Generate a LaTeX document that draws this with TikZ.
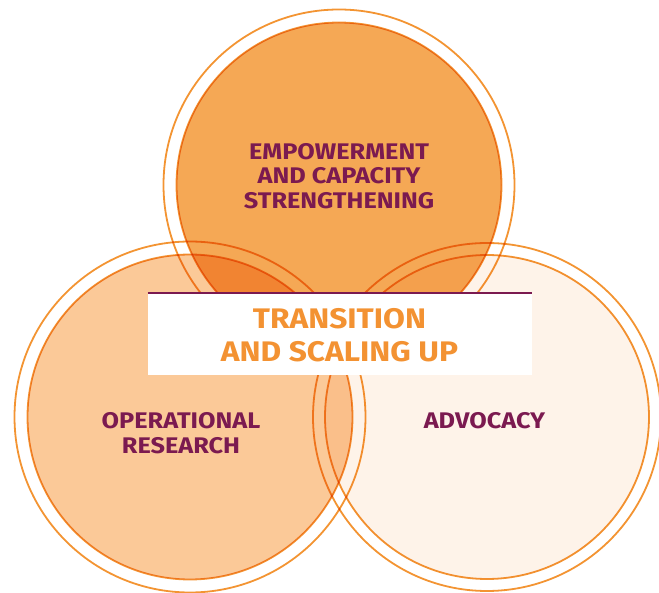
\documentclass[tikz,border=0pt]{standalone}
\usepackage{fontspec}
\setmainfont{Fira Sans}
\newfontfamily\labelfont{Fira Sans}[FakeStretch=1.12]
\definecolor{ringorange}{HTML}{F39432}
\definecolor{topfill}{HTML}{F5A855}
\definecolor{leftfill}{HTML}{FBC998}
\definecolor{rightfill}{HTML}{FEF3E9}
\definecolor{labelpurple}{HTML}{7B1A50}
\definecolor{titleorange}{HTML}{F39232}
\tikzset{
  disk/.style={draw=ringorange, line width=1.8pt, blend mode=multiply},
  ring/.style={draw=ringorange, line width=1.8pt, blend mode=multiply},
  circlelabel/.style={font=\labelfont\bfseries\fontsize{22.6}{24.5}\selectfont, text=labelpurple, align=center},
  titlelabel/.style={font=\labelfont\bfseries\fontsize{28.3}{33.5}\selectfont, text=titleorange, align=center}
}
\begin{document}
\begin{tikzpicture}[x=1pt,y=-1pt]
\useasboundingbox (0,0) rectangle (659,593);
\coordinate (ct) at (339,185);
\coordinate (cl) at (190,417);
\coordinate (cr) at (487,417);
\path[disk, fill=topfill] (ct) circle[radius=162.5];
\path[ring] (ct) circle[radius=175.5];
\path[disk, fill=leftfill] (cl) circle[radius=162.5];
\path[ring] (cl) circle[radius=175.5];
\path[disk, fill=rightfill] (cr) circle[radius=162];
\path[ring] (cr) circle[radius=174];
% central box
\fill[white] (147.5,293.5) rectangle (531.5,375.5);
\draw[labelpurple, line width=2pt] (147.5,293.5) -- (531.5,293.5);
\node[titlelabel] (title) at (339.5,335) {TRANSITION\\AND SCALING UP};
\node[circlelabel] (empower) at (339,176) {EMPOWERMENT\\AND CAPACITY\\STRENGTHENING};
\node[circlelabel] (opres) at (181,433) {OPERATIONAL\\RESEARCH};
\node[circlelabel] (advocacy) at (484.5,421) {ADVOCACY};
\end{tikzpicture}
\end{document}
